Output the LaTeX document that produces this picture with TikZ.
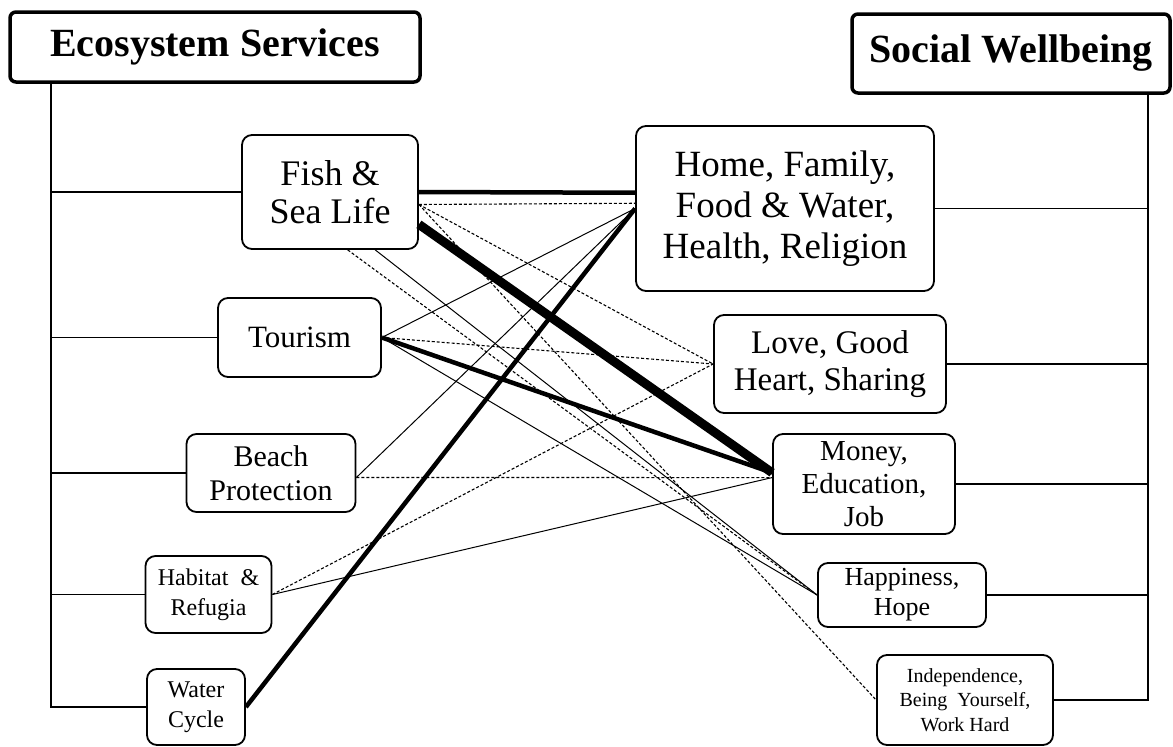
\documentclass[tikz,border=0pt]{standalone}
\usepackage{fontspec}
\setmainfont{Liberation Serif}

\tikzstyle{title}=[draw,line width=3.5pt,rounded corners=6pt,inner sep=0pt,font=\bfseries\fontsize{40}{44}\selectfont]
\tikzstyle{item}=[draw,line width=1.8pt,rounded corners=10pt,inner sep=0pt,align=center]
\tikzstyle{tree}=[line width=1.8pt]
\tikzstyle{link}=[line width=1pt]
\tikzstyle{dashlink}=[line width=1.1pt,dash pattern=on 3pt off 2pt]
\tikzstyle{boldlink}=[line width=4.5pt]
\tikzstyle{heavylink}=[line width=9pt]

\begin{document}
\begin{tikzpicture}[x=1pt,y=-1pt]
    \useasboundingbox (0,0) rectangle (1173,747);

    \node (eco)[title,minimum width=410pt,minimum height=70pt] at (215,47) {Ecosystem Services};
    \node (soc)[title,minimum width=318pt,minimum height=79pt] at (1011,53.5) {Social Wellbeing};

    \node (fish)[item,minimum width=176pt,minimum height=114pt,font=\fontsize{36}{38}\selectfont] at (330,192) {Fish \&\\Sea Life};
    \node (tour)[item,minimum width=163pt,minimum height=79pt,font=\fontsize{31}{34}\selectfont] at (299.5,337.5) {Tourism};
    \node (beach)[item,minimum width=169pt,minimum height=78pt,font=\fontsize{30}{34}\selectfont] at (271,473) {Beach\\Protection};
    \node (hab)[item,minimum width=126pt,minimum height=77pt,font=\fontsize{24}{30}\selectfont] at (208.5,594.5) {Habitat~~\&\\Refugia};
    \node (water)[item,minimum width=98pt,minimum height=76pt,font=\fontsize{24}{30}\selectfont] at (196,707) {Water\\Cycle};

    \node (home)[item,minimum width=298pt,minimum height=165pt,font=\fontsize{37}{41}\selectfont] at (785,208.5) {Home, Family,\\Food \& Water,\\Health, Religion};
    \node (love)[item,minimum width=232pt,minimum height=98pt,font=\fontsize{33}{37}\selectfont] at (830,364) {Love, Good\\Heart, Sharing};
    \node (money)[item,minimum width=182pt,minimum height=100pt,font=\fontsize{29}{33}\selectfont] at (864,484) {Money,\\Education,\\Job};
    \node (happy)[item,minimum width=168pt,minimum height=64pt,font=\fontsize{26}{30}\selectfont] at (902,595) {Happiness,\\Hope};
    \node (indep)[item,minimum width=176pt,minimum height=90pt,font=\fontsize{20}{24.5}\selectfont] at (965,700) {Independence,\\Being~~Yourself,\\Work Hard};

    \coordinate (lspine) at (51,0);
    \coordinate (rspine) at (1148,0);
    \draw[tree] (eco.south -| lspine) |- (water.west);
    \foreach \n in {fish,tour,beach,hab}
        \draw[tree] (\n.west -| lspine) -- (\n.west);
    \draw[tree] (soc.south -| rspine) |- (indep.east);
    \foreach \n in {home,love,money,happy}
        \draw[tree] (\n.east) -- (\n.east -| rspine);

    \draw[boldlink] (fish.east) -- (home.174);
    \draw[dashlink] (fish.-8) -- (home.178);
    \draw[dashlink] (fish.-8) -- (love.west);
    \draw[dashlink] (fish.-8) -- (indep.west);
    \draw[heavylink] (fish.-20) -- (money.173);
    \draw[dashlink] (fish.-73) -- (happy.west);
    \draw[link] (fish.-52) -- (happy.west);
    \draw[link] (tour.east) -- (home.west);
    \draw[dashlink] (tour.east) -- (love.west);
    \draw[boldlink] (tour.east) -- (money.173);
    \draw[link] (tour.east) -- (happy.west);
    \draw[link] (beach.-3) -- (home.west);
    \draw[dashlink] (beach.-3) -- (money.176);
    \draw[dashlink] (hab.east) -- (love.west);
    \draw[link] (hab.east) -- (money.176);
    \draw[boldlink] (water.east) -- (home.west);
\end{tikzpicture}
\end{document}
